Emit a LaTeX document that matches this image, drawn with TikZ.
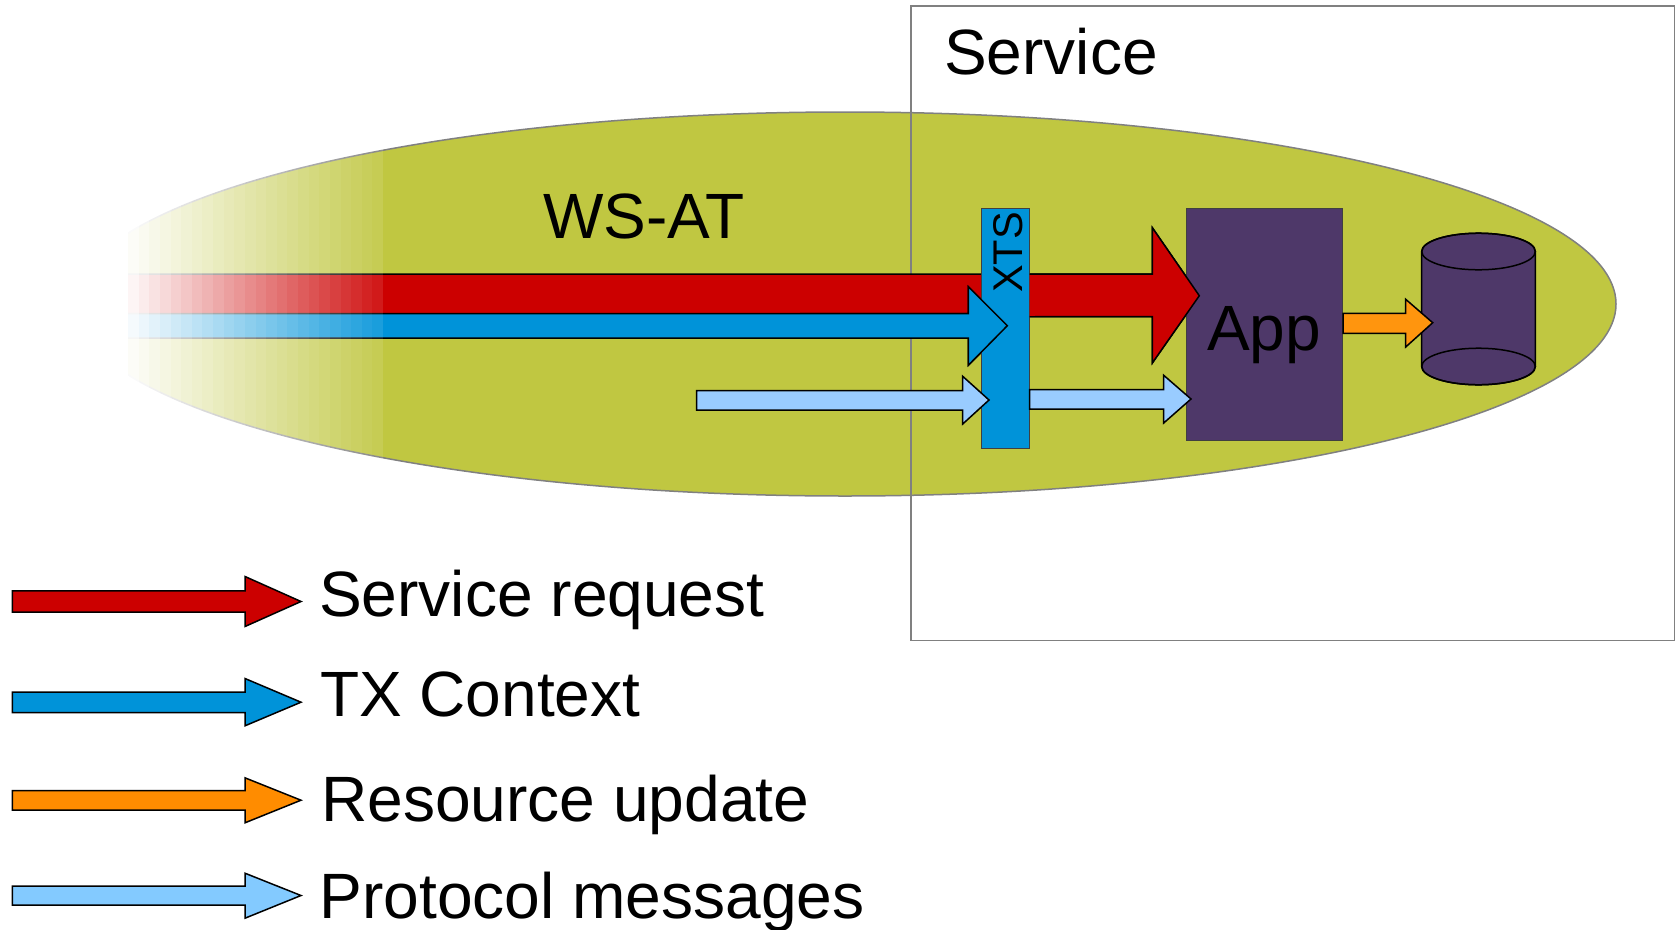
\documentclass[tikz,border=0pt]{standalone}
\usepackage{fontspec}
\setmainfont{Liberation Sans}
\definecolor{olive}{HTML}{C0C741}
\definecolor{purp}{HTML}{4E3869}
\definecolor{redA}{HTML}{CC0000}
\definecolor{blueA}{HTML}{0093D9}
\definecolor{orangeA}{HTML}{FF8C00}
\definecolor{orangeB}{HTML}{FF950E}
\definecolor{skyA}{HTML}{83CAFF}
\definecolor{skyB}{HTML}{99CCFF}
\definecolor{frameC}{HTML}{808080}
\tikzset{
  blockarrow/.style={draw=black,line width=1.5bp,line join=miter,fill=#1},
  boxnode/.style={draw=black!75,line width=1bp,anchor=north west,inner sep=0pt,outer sep=0pt},
  label/.style={anchor=base west,inner sep=0pt,font=\fontsize{#1bp}{#1bp}\selectfont},
}
% fill, x start, x head base, x tip, shaft top, shaft bottom, head top, head bottom, y tip
\newcommand{\blockarr}[9]{\path[blockarrow=#1] (#2,#5) -- (#3,#5) -- (#3,#7) -- (#4,#9) -- (#3,#8) -- (#3,#6) -- (#2,#6) -- cycle;}
\begin{document}
\begin{tikzpicture}[x=1bp,y=-1bp]
\useasboundingbox (0,0) rectangle (1675,929);
% WS-AT ellipse
\draw[draw=frameC,line width=1.5bp,fill=olive] (845,304) ellipse [x radius=771,y radius=192];
% service frame
\draw[draw=frameC,line width=1.5bp] (911,6) rectangle (1674.5,640.5);
% service request and context
\blockarr{redA}{120}{1152.3}{1199.3}{274}{316.7}{227.7}{363}{295.7}
\blockarr{blueA}{120}{968.3}{1007.3}{313.5}{338}{286.7}{365.3}{325.7}
% fade at the left
\fill[white] (0,100) rectangle (128,510);
\foreach \k in {1,...,24}{
  \pgfmathsetmacro{\xa}{round(128+(\k-1)*10.625)}
  \pgfmathsetmacro{\xb}{round(128+\k*10.625)}
  \pgfmathsetmacro{\ak}{1-0.9*\k/24}
  \fill[white,opacity=\ak] (\xa,100) rectangle (\xb,510);
}
% XTS over the red arrow, under the blue one
\node[boxnode,fill=blueA,minimum width=48.4bp,minimum height=240.5bp] (xts) at (981.3,208) {};
\node[rotate=90,anchor=base west,inner sep=0pt,font=\fontsize{41.5bp}{41.5bp}\selectfont] (xtslabel) at (1022.5,293) {XTS};
\path[blockarrow=blueA] (800,313.5) -- (968.3,313.5) -- (968.3,286.7) -- (1007.3,325.7) -- (968.3,365.3) -- (968.3,338) -- (800,338);
% App
\node[boxnode,fill=purp,minimum width=156.8bp,minimum height=232bp] (app) at (1186,208) {};
\node[label=64] (applabel) at (1207,350) {App};
\path[blockarrow=redA] (1029.7,274) -- (1152.3,274) -- (1152.3,227.7) -- (1199.3,295.7) -- (1152.3,363) -- (1152.3,316.7) -- (1029.7,316.7);
\fill[redA] (1029.7,275) rectangle (1035,316);
% protocol messages
\blockarr{skyB}{696.5}{962.7}{989}{390.5}{410}{376.3}{424}{400}
\blockarr{skyB}{1029.7}{1163.7}{1191}{389.5}{409}{375.3}{423}{399}
% cylinder
\draw[draw=black,line width=1.5bp,fill=purp] (1421.7,251.5) -- (1421.7,366.5) arc[start angle=180,end angle=360,x radius=56.8,y radius=-18.3] -- (1535.3,251.5) arc[start angle=0,end angle=180,x radius=56.8,y radius=-18.3] -- cycle;
\draw[draw=black,line width=1.5bp] (1478.5,251.5) ellipse [x radius=56.8,y radius=18.3];
\draw[draw=black,line width=1.5bp] (1478.5,366.5) ellipse [x radius=56.8,y radius=18.3];
% resource update
\blockarr{orangeB}{1343}{1405.7}{1432.7}{313.3}{333.3}{299.3}{347}{322.7}
% titles
\node[label=64] (servicetitle) at (944,74) {Service};
\node[label=64] (wsat) at (543,238) {WS-AT};
% legend
\blockarr{redA}{12.3}{245}{301}{590.8}{612.2}{576.5}{626.5}{601.5}
\blockarr{blueA}{12.3}{245}{301}{692.2}{712.5}{678.5}{725.8}{702.2}
\blockarr{orangeA}{12.3}{245}{301}{790.5}{810.2}{777.8}{822.8}{800.2}
\blockarr{skyA}{12.3}{245}{301}{886.2}{905.2}{873.2}{918.2}{895.5}
\node[label=64.1] (l1) at (319,616) {Service request};
\node[label=64] (l2) at (320,716.7) {TX Context};
\node[label=64.1] (l3) at (321,821.7) {Resource update};
\node[label=64.1] (l4) at (319.5,918) {Protocol messages};
\end{tikzpicture}
\end{document}
